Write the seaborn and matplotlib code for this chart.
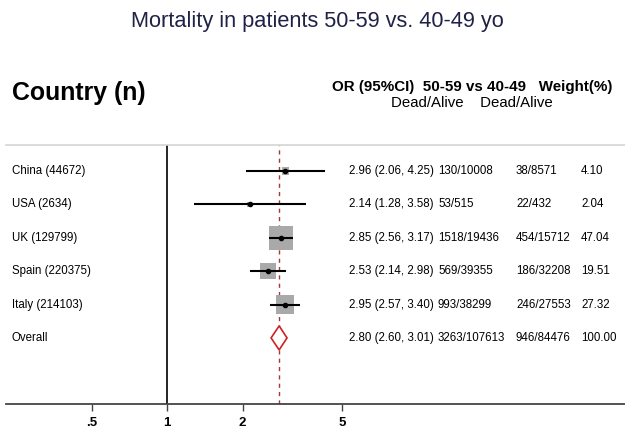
import numpy as np
import pandas as pd
import matplotlib
matplotlib.use('Agg')
import matplotlib.pyplot as plt
import matplotlib.transforms as mtransforms
from matplotlib.patches import Polygon
import seaborn as sns

# データ
countries = ['China (44672)', 'USA (2634)', 'UK (129799)', 'Spain (220375)', 'Italy (214103)']
or_vals = [2.96, 2.14, 2.85, 2.53, 2.95]
ci_low = [2.06, 1.28, 2.56, 2.14, 2.57]
ci_high = [4.25, 3.58, 3.17, 2.98, 3.40]
da_5059 = ['130/10008', '53/515', '1518/19436', '569/39355', '993/38299']
da_4049 = ['38/8571', '22/432', '454/15712', '186/32208', '246/27553']
weights = [4.10, 2.04, 47.04, 19.51, 27.32]

overall_label = 'Overall'
overall_or = 2.80
overall_low = 2.60
overall_high = 3.01
overall_5059 = '3263/107613'
overall_4049 = '946/84476'
overall_weight = 100.00

tick_vals = [0.5, 1, 2, 5]
tick_labels = ['.5', '1', '2', '5']

df = pd.DataFrame({'country': countries, 'or': or_vals, 'lo': ci_low, 'hi': ci_high,
                   'd1': da_5059, 'd2': da_4049, 'w': weights})
df['row'] = np.arange(1, len(df) + 1)
overall_row = len(df) + 1

sns.set_theme(style='white')
plt.rcParams['font.family'] = ['Liberation Sans', 'DejaVu Sans']
plt.rcParams['text.color'] = 'black'
plt.rcParams['xtick.color'] = 'black'

fig = plt.figure(figsize=(6.25, 4.41), dpi=100)
ax = fig.add_axes([6 / 625, 37 / 441, 1 - 6 / 625, 259 / 441])
ax.set_xscale('log', base=2)
ax.set_xlim(2 ** ((6 - 167) / 75.5), 2 ** ((625 - 167) / 75.5))
ax.set_ylim(7.98, 0.22)

# 四角（重み）
k = 6.6
sns.scatterplot(data=df, x='or', y='row', size='w', sizes=(k * min(weights), k * max(weights)),
                size_norm=(min(weights), max(weights)), marker='s', color='#a9a9a9',
                linewidth=0, legend=False, ax=ax, zorder=2)
# 信頼区間
ax.hlines(df['row'], df['lo'], df['hi'], color='black', lw=1.5, zorder=3)
ax.plot(df['or'], df['row'], 'o', color='black', ms=3, zorder=4)

# 縦線
ax.axvline(1, color='black', lw=1.2, zorder=1)
ax.axvline(overall_or, color='#a23a3a', lw=1.0, ls=(0, (3, 3)), zorder=1)

# 菱形
h = 0.36
diamond = Polygon([[overall_low, overall_row], [overall_or, overall_row - h],
                   [overall_high, overall_row], [overall_or, overall_row + h]],
                  closed=True, facecolor='white', edgecolor='#d02020', lw=1.2, zorder=5)
ax.add_patch(diamond)

# テキスト
tr = mtransforms.blended_transform_factory(fig.transFigure, ax.transData)
fs = 8.3
for _, r in df.iterrows():
    ax.text(12 / 625, r['row'], r['country'], transform=tr, fontsize=fs, va='center')
    ax.text(349 / 625, r['row'], f"{r['or']:.2f} ({r['lo']:.2f}, {r['hi']:.2f})", transform=tr,
            fontsize=fs, va='center')
    ax.text(438 / 625, r['row'], r['d1'], transform=tr, fontsize=fs, va='center')
    ax.text(516 / 625, r['row'], r['d2'], transform=tr, fontsize=fs, va='center')
    ax.text(581 / 625, r['row'], f"{r['w']:.2f}", transform=tr, fontsize=fs, va='center')
ax.text(12 / 625, overall_row, overall_label, transform=tr, fontsize=fs, va='center')
ax.text(349 / 625, overall_row, f'{overall_or:.2f} ({overall_low:.2f}, {overall_high:.2f})',
        transform=tr, fontsize=fs, va='center')
ax.text(438 / 625, overall_row, overall_5059, transform=tr, fontsize=fs, va='center')
ax.text(516 / 625, overall_row, overall_4049, transform=tr, fontsize=fs, va='center')
ax.text(581 / 625, overall_row, f'{overall_weight:.2f}', transform=tr, fontsize=fs, va='center')

# ヘッダー
fig.text(131 / 625, 1 - 22 / 441, 'Mortality in patients 50-59 vs. 40-49 yo', fontsize=15.7,
         color='#1f2147', va='center', ha='left')
fig.text(12 / 625, 1 - 93 / 441, 'Country (n)', fontsize=17.9, fontweight='bold', va='center')
fig.text(332 / 625, 1 - 87 / 441, 'OR (95%CI)  50-59 vs 40-49   Weight(%)', fontsize=10.9,
         fontweight='bold', va='center')
fig.text(391 / 625, 1 - 103 / 441, 'Dead/Alive    Dead/Alive', fontsize=10.8, va='center')

# 軸
ax.set_xticks(tick_vals)
ax.set_xticklabels(tick_labels, fontweight='bold', fontsize=9.5)
ax.xaxis.set_minor_locator(matplotlib.ticker.NullLocator())
ax.set_yticks([])
ax.set_xlabel('')
ax.set_ylabel('')
ax.tick_params(axis='x', bottom=True, length=5, width=1, color='#444444', pad=4)
for s in ['left', 'right']:
    ax.spines[s].set_visible(False)
ax.spines['top'].set_color('#d4d4d4')
ax.spines['top'].set_linewidth(1.2)
ax.spines['bottom'].set_color('#444444')
ax.spines['bottom'].set_linewidth(1.3)

fig.savefig('out.png', dpi=100)
